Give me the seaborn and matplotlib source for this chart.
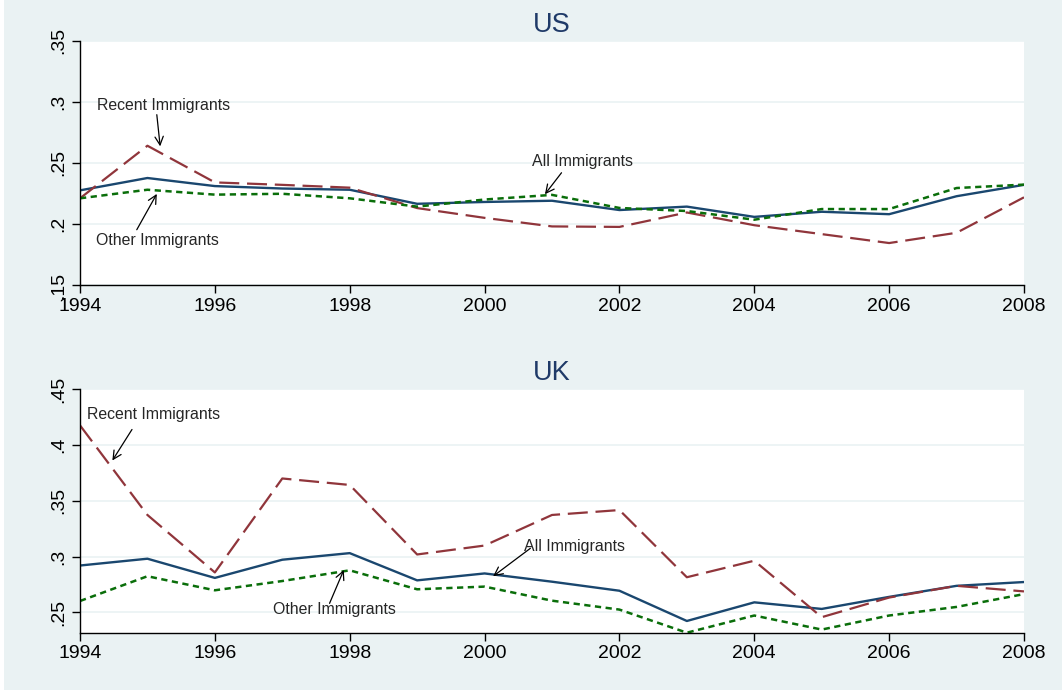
import matplotlib
matplotlib.use('Agg')
import matplotlib.pyplot as plt
from matplotlib.patches import Rectangle
import seaborn as sns
import pandas as pd

# Data
years = list(range(1994, 2009))

us_all = [0.2275, 0.2376, 0.231, 0.229, 0.228, 0.2165, 0.218, 0.219,
          0.2114, 0.2142, 0.2058, 0.210, 0.208, 0.2227, 0.232]
us_recent = [0.221, 0.264, 0.234, 0.232, 0.2297, 0.213, 0.205, 0.198,
             0.1976, 0.2094, 0.199, 0.1917, 0.1844, 0.1928, 0.2218]
us_other = [0.221, 0.228, 0.224, 0.2247, 0.221, 0.2142, 0.220, 0.2238,
            0.2131, 0.2106, 0.2035, 0.2122, 0.2122, 0.2294, 0.2322]

uk_all = [0.292, 0.2981, 0.2809, 0.2972, 0.3031, 0.2787, 0.2849, 0.2775,
          0.2694, 0.2423, 0.259, 0.2531, 0.2639, 0.2738, 0.2772]
uk_recent = [0.4176, 0.3373, 0.2858, 0.370, 0.3642, 0.3019, 0.3099, 0.3373,
             0.3417, 0.2815, 0.2963, 0.2457, 0.2633, 0.2738, 0.2688]
uk_other = [0.2602, 0.2824, 0.2698, 0.2781, 0.2877, 0.2707, 0.2731, 0.2605,
            0.2525, 0.2318, 0.2472, 0.2346, 0.2472, 0.2549, 0.2664]

x_ticks = [1994, 1996, 1998, 2000, 2002, 2004, 2006, 2008]
us_yticks = [0.15, 0.2, 0.25, 0.3, 0.35]
us_ylabels = ['.15', '.2', '.25', '.3', '.35']
uk_yticks = [0.25, 0.3, 0.35, 0.4, 0.45]
uk_ylabels = ['.25', '.3', '.35', '.4', '.45']

BG = '#eaf2f3'
NAVY = '#1a476f'
TITLE = '#1f3a68'
MAROON = '#90353b'
GREEN = '#0a6e0a'

sns.set_style('white')
plt.rcParams['font.family'] = ['Liberation Sans', 'DejaVu Sans']

fig = plt.figure(figsize=(10.62, 6.95), dpi=100)
fig.patch.set_facecolor('white')
fig.patches.append(Rectangle((4 / 1062, 5 / 695), 1, 1, transform=fig.transFigure,
                             facecolor=BG, edgecolor='none', zorder=-10))

ax_us = fig.add_axes([80 / 1062, 1 - 285.1 / 695, 944 / 1062, 244.5 / 695])
ax_uk = fig.add_axes([80 / 1062, 1 - 632.7 / 695, 944 / 1062, 243.5 / 695])


def draw_panel(ax, title, all_v, recent_v, other_v, yticks, ylabels, ylim):
    df = pd.DataFrame({'year': years, 'all': all_v, 'recent': recent_v, 'other': other_v})
    sns.lineplot(data=df, x='year', y='all', ax=ax, color=NAVY, lw=1.7)
    sns.lineplot(data=df, x='year', y='recent', ax=ax, color=MAROON, lw=1.6)
    ax.lines[-1].set_dashes((9, 3.5))
    sns.lineplot(data=df, x='year', y='other', ax=ax, color=GREEN, lw=1.8)
    ax.lines[-1].set_dashes((2.5, 1.8))

    ax.set_xlim(1994, 2008)
    ax.set_ylim(*ylim)
    ax.set_xticks(x_ticks)
    ax.set_yticks(yticks)
    ax.set_yticklabels(ylabels, rotation=90, va='center')
    ax.set_xlabel('')
    ax.set_ylabel('')
    ax.set_title(title, fontsize=19.5, color=TITLE, pad=6.5)
    ax.grid(axis='y', color=BG, lw=1.2)
    ax.grid(axis='x', visible=False)
    ax.set_axisbelow(True)
    for s in ['top', 'right']:
        ax.spines[s].set_visible(False)
    for s in ['left', 'bottom']:
        ax.spines[s].set_color('black')
        ax.spines[s].set_linewidth(1.0)
    ax.tick_params(axis='x', length=6, width=1, pad=3, labelsize=14, colors='black', bottom=True)
    ax.tick_params(axis='y', length=6, width=1, pad=3.5, labelsize=14, colors='black', left=True)
    ax.set_facecolor('white')


def label(ax, text, txy, start, tip):
    ax.text(txy[0], txy[1], text, fontsize=11.4, ha='center', va='center')
    ax.annotate('', xy=tip, xytext=start,
                arrowprops=dict(arrowstyle='->,head_length=0.6,head_width=0.3',
                                color='black', lw=0.9, shrinkA=0, shrinkB=0))


draw_panel(ax_us, 'US', us_all, us_recent, us_other, us_yticks, us_ylabels, (0.15, 0.35))
draw_panel(ax_uk, 'UK', uk_all, uk_recent, uk_other, uk_yticks, uk_ylabels, (0.2318, 0.45))

label(ax_us, 'Recent Immigrants', (1995.244, 0.2973), (1995.139, 0.2894), (1995.189, 0.2635))
label(ax_us, 'Other Immigrants', (1995.143, 0.1861), (1994.842, 0.1953), (1995.139, 0.2246))
label(ax_us, 'All Immigrants', (2001.448, 0.2512), (2001.141, 0.2419), (2000.895, 0.2243))

label(ax_uk, 'Recent Immigrants', (1995.097, 0.4271), (1994.771, 0.4139), (1994.480, 0.3861))
label(ax_uk, 'Other Immigrants', (1997.775, 0.2528), (1997.701, 0.2581), (1997.912, 0.2880))
label(ax_uk, 'All Immigrants', (2001.332, 0.3091), (2000.679, 0.3074), (2000.127, 0.2824))

fig.savefig('out.png', dpi=100, facecolor=fig.get_facecolor())
